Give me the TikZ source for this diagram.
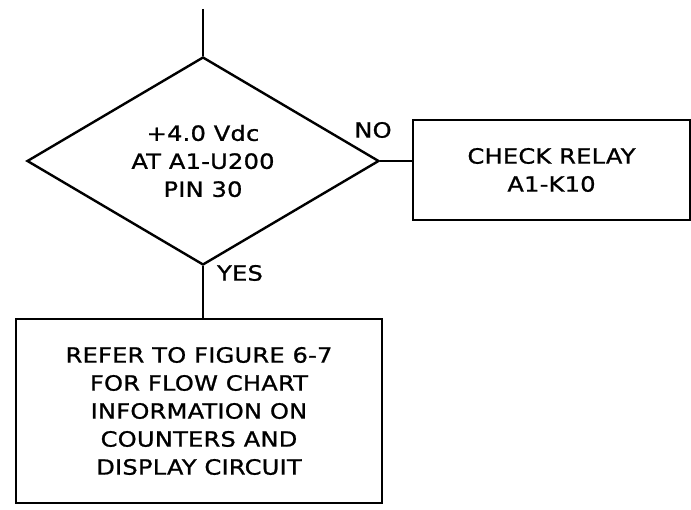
\documentclass[tikz,border=0pt]{standalone}
\usepackage{fontspec}
\setmainfont{DejaVu Sans}[FakeStretch=1.15,LetterSpace=1,FakeBold=1]
\usetikzlibrary{shapes.geometric,calc}

\begin{document}
\begin{tikzpicture}[x=1pt,y=-1pt,line width=2.4pt,
  every node/.style={font=\fontsize{21}{28}\selectfont,align=center,inner sep=0pt},
  decision/.style={draw,diamond,aspect=1.7,minimum width=352pt,minimum height=208pt},
  stepbox/.style={draw,rectangle}]
\useasboundingbox (0,0) rectangle (691,510);

\coordinate (In) at (203,9);

\node[decision] (Check) at (203,161) {+4.0 Vdc\\AT A1-U200\\PIN 30};
\node[stepbox,minimum width=277pt,minimum height=100pt] (Relay) at (551.5,170) {CHECK RELAY\\A1-K10};
\node[stepbox,minimum width=366pt,minimum height=184pt] (Refer) at (199,411)
  {REFER TO FIGURE 6-7\\FOR FLOW CHART\\INFORMATION ON\\COUNTERS AND\\DISPLAY CIRCUIT};

\node (No) at (373,130) {NO};
\node (Yes) at (240,273) {YES};

\draw (In) -- (Check.north);
\draw (Check.east) -- (Check.east -| Relay.west);
\draw (Check.south) -- (Check.south |- Refer.north);

\end{tikzpicture}
\end{document}
